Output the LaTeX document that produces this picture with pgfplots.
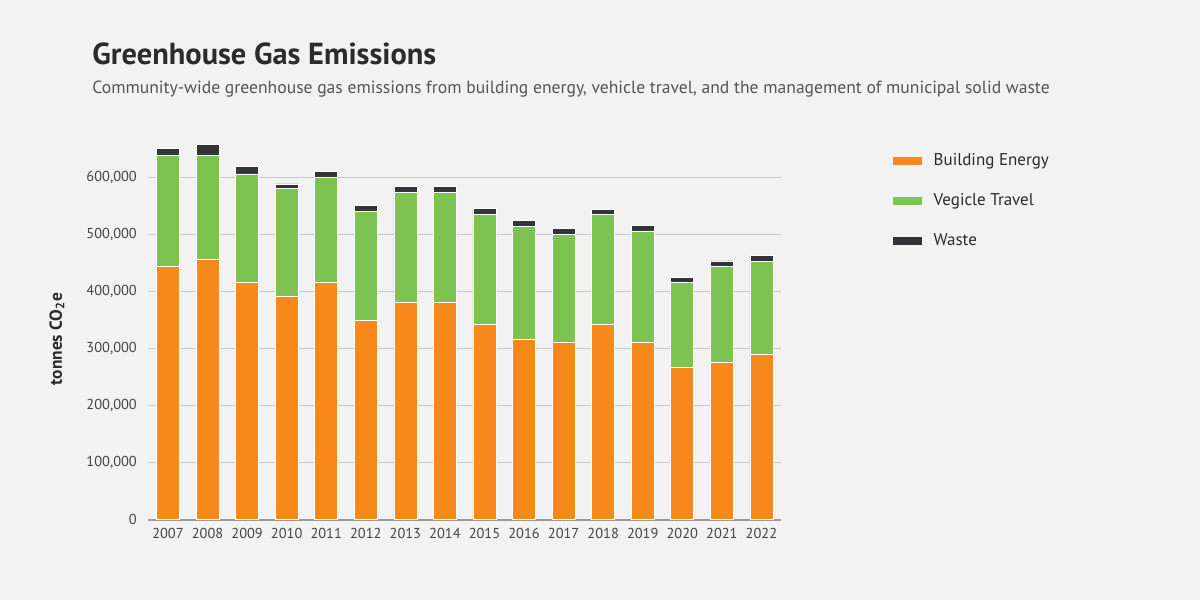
\documentclass[border=0pt]{standalone}
\usepackage{fontspec}
\setmainfont{PT Sans}
\usepackage{pgfplots}
\pgfplotsset{compat=1.18}
\definecolor{bg}{HTML}{F2F2F2}
\definecolor{orangeb}{HTML}{F7891A}
\definecolor{greenb}{HTML}{7DC352}
\definecolor{darkb}{HTML}{333438}
\definecolor{titlec}{HTML}{2B2B2B}
\definecolor{subc}{HTML}{555555}
\definecolor{tickc}{HTML}{444444}
\definecolor{gridc}{HTML}{C8C8C8}
\definecolor{axisc}{HTML}{9A9A9A}
\begin{document}
\begin{tikzpicture}[x=1pt,y=1pt]
\fill[bg] (0,0) rectangle (600,300);
\useasboundingbox (0,0) rectangle (600,300);
\node[anchor=base west, inner sep=0, text=titlec, font=\bfseries\fontsize{15.2}{18}\selectfont] at (46,267.5) {Greenhouse Gas Emissions};
\node[anchor=base west, inner sep=0, text=subc, font=\fontsize{8.8}{11}\selectfont] at (46,253.3) {Community-wide greenhouse gas emissions from building energy, vehicle travel, and the management of municipal solid waste};
\node[rotate=90, anchor=center, inner sep=0, text=titlec, font=\bfseries\fontsize{8.7}{10}\selectfont] at (28.5,130.5) {tonnes CO\textsubscript{2}e};
\begin{axis}[
  at={(74.1pt,40.0pt)}, anchor=south west,
  scale only axis, width=316.5pt, height=188.6pt,
  ybar stacked, bar width=11.5pt,
  xmin=-0.5, xmax=15.5, ymin=-1500, ymax=660000,
  clip=false,
  axis x line*=bottom, axis y line*=left,
  y axis line style={draw=none},
  x axis line style={draw=axisc, line width=0.75pt},
  major tick length=0pt,
  tick style={draw=none},
  scaled y ticks=false,
  ymajorgrids, grid style={draw=gridc, line width=0.5pt},
  xtick={0,1,...,15},
  xticklabels={2007,2008,2009,2010,2011,2012,2013,2014,2015,2016,2017,2018,2019,2020,2021,2022},
  ytick={0,100000,200000,300000,400000,500000,600000},
  yticklabels={0,{100,000},{200,000},{300,000},{400,000},{500,000},{600,000}},
  ticklabel style={font=\fontsize{7.2}{8}\selectfont, text=tickc},
  yticklabel style={anchor=east, inner sep=0pt, xshift=-5.5pt},
  xticklabel style={anchor=north, inner sep=0pt, yshift=-4pt},
  legend style={at={(1.1762,0.9755)}, anchor=north west, draw=none, fill=none,
    inner sep=0pt, outer sep=0pt, row sep=11.5pt, column sep=6pt,
    font=\fontsize{8.5}{10}\selectfont, text=titlec,
    nodes={inner sep=0pt, text height=6.5pt, text depth=2pt}},
  legend cell align=left,
  legend image code/.code={\fill[#1,draw=none] (0pt,-2pt) rectangle (14.5pt,2pt);},
]
\addplot[fill=orangeb, draw=white, line width=0.3pt] coordinates {
(0,444000) (1,455500) (2,414500) (3,390500) (4,414500) (5,348000) (6,381000) (7,381000)
(8,341500) (9,316000) (10,310000) (11,341500) (12,310000) (13,265500) (14,275000) (15,289000)};
\addlegendentry{Building Energy}
\addplot[fill=greenb, draw=white, line width=0.3pt] coordinates {
(0,193500) (1,182000) (2,191000) (3,189500) (4,185000) (5,191300) (6,192400) (7,192400)
(8,193000) (9,198000) (10,190000) (11,192300) (12,195400) (13,149000) (14,167800) (15,162500)};
\addlegendentry{Vegicle Travel}
\addplot[fill=darkb, draw=white, line width=0.3pt] coordinates {
(0,13000) (1,19300) (2,13400) (3,8000) (4,11000) (5,11000) (6,10000) (7,10000)
(8,10500) (9,9300) (10,10500) (11,10000) (12,10000) (13,10000) (14,10000) (15,10500)};
\addlegendentry{Waste}
\end{axis}
\end{tikzpicture}
\end{document}
